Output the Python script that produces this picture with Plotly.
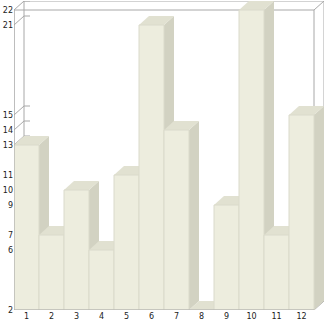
import plotly.graph_objects as go

# ---- data ----
categories = [1, 2, 3, 4, 5, 6, 7, 8, 9, 10, 11, 12]
values = [13, 7, 10, 6, 11, 21, 14, 2, 9, 22, 7, 15]
y_ticks = [2, 6, 7, 9, 10, 11, 13, 14, 15, 21, 22]
x_labels = [str(c) for c in categories]

# ---- layout geometry ----
W, H = 326, 321
ml, mr, mt, mb = 14, 2, 1, 11
pw, ph = W - ml - mr, H - mt - mb
base, top_val = min(y_ticks), max(y_ticks)
ux = pw / (len(categories) + 0.4)          # px per x unit
uy = (ph - 9) / (top_val - base)           # px per y unit
dx, dy = 10 / ux, 9 / uy                   # depth in data units
xr = [0.5, 0.5 + pw / ux]
yr = [base, base + ph / uy]
xl, xh = 0.5, len(categories) + 0.5

FRONT = "#EDEDDE"
SIDE = "#D2D2C2"
TOP = "#E1E1D1"
EDGE = "#DADACB"
FRAME = "#A8A8A8"

fig = go.Figure()

# ---- frame (behind bars) ----
fx, fy = [], []
def seg(xs, ys):
    fx.extend(xs + [None]); fy.extend(ys + [None])

# back wall
seg([xl + dx, xl + dx, xh + dx, xh + dx], [base + dy, top_val + dy, top_val + dy, base + dy])
# front box
seg([xl, xl, xh, xh], [base, top_val, top_val, base])
seg([xl, xh], [base, base])
# corner diagonals
seg([xh, xh + dx], [top_val, top_val + dy])
seg([xh, xh + dx], [base, base + dy])
# tick diagonals and back-wall ticks
for t in y_ticks:
    seg([xl, xl + dx], [t, t + dy])
    seg([xl + dx, xl + dx + 0.24], [t + dy, t + dy])

fig.add_trace(go.Scatter(x=fx, y=fy, mode="lines", line=dict(color=FRAME, width=1),
                         hoverinfo="skip", showlegend=False, cliponaxis=False))

# ---- pseudo-3D bars ----
for c, v in zip(categories, values):
    a, b = c - 0.5, c + 0.5
    # side
    fig.add_trace(go.Scatter(
        x=[b, b, b + dx, b + dx, b], y=[base, v, v + dy, base + dy, base],
        mode="lines", fill="toself", fillcolor=SIDE, line=dict(width=0, color=SIDE),
        hoverinfo="skip", showlegend=False, cliponaxis=False))
    # top
    fig.add_trace(go.Scatter(
        x=[a, b, b + dx, a + dx, a], y=[v, v, v + dy, v + dy, v],
        mode="lines", fill="toself", fillcolor=TOP, line=dict(width=0, color=TOP),
        hoverinfo="skip", showlegend=False, cliponaxis=False))
    # front
    if v > base:
        fig.add_trace(go.Scatter(
            x=[a, b, b, a, a], y=[base, base, v, v, base],
            mode="lines", fill="toself", fillcolor=FRONT, line=dict(width=1, color=EDGE),
            hoverinfo="skip", showlegend=False, cliponaxis=False))

# front axis lines on top
fig.add_trace(go.Scatter(x=[xl, xl, xh], y=[top_val, base, base], mode="lines",
                         line=dict(color=FRAME, width=1), hoverinfo="skip",
                         showlegend=False, cliponaxis=False))

fig.update_layout(
    width=W, height=H,
    margin=dict(l=ml, r=mr, t=mt, b=mb, pad=0),
    paper_bgcolor="white", plot_bgcolor="white",
    font=dict(family="DejaVu Sans", size=8, color="#222222"),
    xaxis=dict(range=xr, tickvals=categories, ticktext=x_labels, showgrid=False,
               zeroline=False, showline=False, ticks="", fixedrange=True),
    yaxis=dict(range=yr, tickvals=y_ticks, ticktext=[str(t) for t in y_ticks],
               showgrid=False, zeroline=False, showline=False, ticks="", fixedrange=True),
)

fig.write_html("out.html")
